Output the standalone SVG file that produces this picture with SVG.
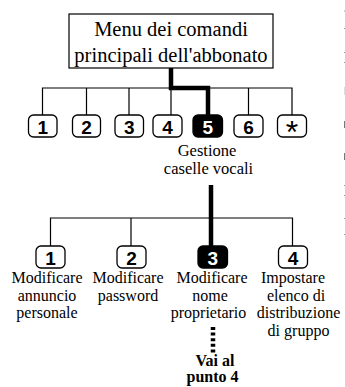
<svg xmlns="http://www.w3.org/2000/svg" width="345" height="387" viewBox="0 0 345 387">
<style>
.t{font-family:"Liberation Serif","Times New Roman",serif;fill:#000;text-anchor:middle}
.title{font-size:20.5px}
.lab{font-size:16.5px}
.sub{font-size:16px}
.bold{font-weight:bold;font-size:16px}
.key{fill:#fff;stroke:#000;stroke-width:1.3}
.keyon{fill:#000;stroke:#000;stroke-width:1.3}
.num{font-family:"Liberation Sans",Arial,sans-serif;font-weight:bold;font-size:19px;text-anchor:middle;fill:#000}
.numon{fill:#fff}
.star{font-family:"Liberation Sans",Arial,sans-serif;font-size:32px;text-anchor:middle;fill:#000}
.thin{fill:none;stroke:#000;stroke-width:1.2}
.thick{fill:none;stroke:#000;stroke-width:4.5}
.dot{fill:none;stroke:#000;stroke-width:4.5;stroke-dasharray:3 2.6}
.mark{fill:#999}
</style>
<g id="connectors">
<path class="thin" d="M42.5,115 V88 H292 V115 M86.5,88 V115 M129,88 V115 M171,88 V115 M248.5,88 V115"/>
<path class="thick" d="M171,68 V88 H208 V115"/>
<path class="thin" d="M50.5,246 V218 H292.5 V246 M131,218 V246"/>
<path class="thick" d="M211,185 V246"/>
<path class="dot" d="M213,327 V353"/>
</g>
<g id="menu">
<rect x="69" y="14" width="204" height="54" fill="#fff" stroke="#000" stroke-width="1.2"/>
<text class="t title" x="171" y="36">Menu dei comandi</text>
<text class="t title" x="171" y="62">principali dell'abbonato</text>
</g>
<g id="k1"><rect class="key" x="28.5" y="115" width="28.5" height="22" rx="5"/><text class="num" x="42.7" y="133.5">1</text></g>
<g id="k2"><rect class="key" x="72.5" y="115" width="28" height="22" rx="5"/><text class="num" x="86.5" y="133.5">2</text></g>
<g id="k3"><rect class="key" x="115" y="115" width="28.5" height="22" rx="5"/><text class="num" x="129.2" y="133.5">3</text></g>
<g id="k4"><rect class="key" x="153" y="115" width="29" height="22" rx="5"/><text class="num" x="167.5" y="133.5">4</text></g>
<g id="k5"><rect class="keyon" x="193" y="115" width="29.5" height="22" rx="5"/><text class="num numon" x="207.7" y="133.5">5</text>
<text class="t lab" x="207" y="155.5">Gestione</text>
<text class="t lab" x="208.5" y="173.5">caselle vocali</text></g>
<g id="k6"><rect class="key" x="234" y="115" width="29" height="22" rx="5"/><text class="num" x="248.5" y="133.5">6</text></g>
<g id="kstar"><rect class="key" x="277.5" y="115" width="29" height="22" rx="5"/><text class="star" x="292" y="143">*</text></g>
<g id="s1"><rect class="key" x="36" y="246" width="29" height="22" rx="5"/><text class="num" x="50.5" y="264.5">1</text>
<text class="t sub" x="47" y="283">Modificare</text>
<text class="t sub" x="47" y="301">annuncio</text>
<text class="t sub" x="47" y="318">personale</text></g>
<g id="s2"><rect class="key" x="117" y="246" width="29" height="22" rx="5"/><text class="num" x="131.5" y="264.5">2</text>
<text class="t sub" x="128" y="283">Modificare</text>
<text class="t sub" x="128" y="301">password</text></g>
<g id="s3"><rect class="keyon" x="198" y="246" width="29.5" height="22" rx="5"/><text class="num numon" x="212.7" y="264.5">3</text>
<text class="t sub" x="212" y="283">Modificare</text>
<text class="t sub" x="210" y="301">nome</text>
<text class="t sub" x="208.5" y="318">proprietario</text>
<text class="t bold" x="215" y="366">Vai al</text>
<text class="t bold" x="212.5" y="382">punto 4</text></g>
<g id="s4"><rect class="key" x="278.5" y="246" width="29" height="22" rx="5"/><text class="num" x="293" y="264.5">4</text>
<text class="t sub" x="293" y="283">Impostare</text>
<text class="t sub" x="296" y="301">elenco di</text>
<text class="t sub" x="298.5" y="318">distribuzione</text>
<text class="t sub" x="298.5" y="336">di gruppo</text></g>
<g id="edge">
<rect class="mark" x="344" y="10.5" width="1" height="1"/>
<rect class="mark" x="344" y="28" width="1" height="1"/>
<rect class="mark" x="344" y="52" width="1" height="1"/>
<rect class="mark" x="344" y="62" width="1" height="1"/>
<rect class="mark" x="344" y="87" width="1" height="8" style="fill:#ddd"/>
<rect class="mark" x="344" y="121" width="1" height="7" style="fill:#777"/>
<rect class="mark" x="344" y="153" width="1" height="7" style="fill:#777"/>
<rect class="mark" x="344" y="185" width="1" height="1"/>
<rect class="mark" x="344" y="195" width="1" height="1"/>
<rect class="mark" x="344" y="218" width="1" height="1"/>
<rect class="mark" x="344" y="234" width="1" height="1"/>
</g>
</svg>
